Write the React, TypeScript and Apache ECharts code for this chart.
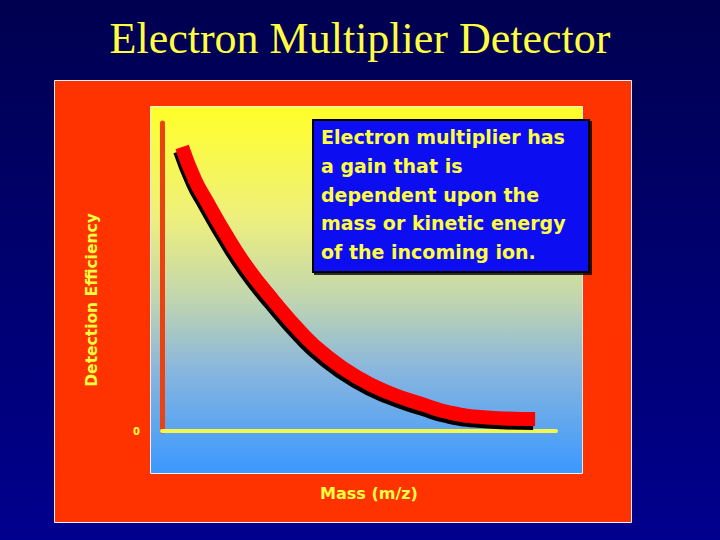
import { useEffect, useRef } from "react";
import * as echarts from "echarts";

// curve: mass (0-100) vs detection efficiency (0-100)
const massValues = [5.1, 8.4, 11.2, 16.0, 21.6, 28.2, 35.5, 40.9, 49.5, 57.9, 66.8, 73.1, 81.5, 94.7];
const efficiencyValues = [92.2, 81.5, 75.0, 64.3, 53.2, 42.5, 31.8, 25.3, 17.5, 12.3, 8.4, 6.0, 4.5, 3.9];
const yTickLabels = ["0"];

const titleText = "Electron Multiplier Detector";
const yAxisTitle = "Detection Efficiency";
const xAxisTitle = "Mass (m/z)";
const noteLines = [
  "Electron multiplier has",
  "a gain that is",
  "dependent upon the",
  "mass or kinetic energy",
  "of the incoming ion.",
];

const YELLOW = "#ffff40";

export default function App() {
  const ref = useRef<HTMLDivElement>(null);

  useEffect(() => {
    if (!ref.current) return;
    const chart = echarts.init(ref.current, undefined, { renderer: "svg" });
    const points = massValues.map((m, i) => [m, efficiencyValues[i]]);

    chart.setOption({
      animation: false,
      backgroundColor: new echarts.graphic.LinearGradient(0, 0, 0, 1, [
        { offset: 0, color: "#000050" },
        { offset: 1, color: "#00008e" },
      ]),
      grid: { left: 162, top: 123, width: 394, height: 308 },
      xAxis: {
        type: "value",
        min: 0,
        max: 100,
        z: 3,
        axisLine: { lineStyle: { color: "#f4f84a", width: 4 } },
        axisTick: { show: false },
        axisLabel: { show: false },
        splitLine: { show: false },
      },
      yAxis: {
        type: "value",
        min: 0,
        max: 100,
        interval: 100,
        z: 3,
        axisLine: { show: true, lineStyle: { color: "#ec4212", width: 5 } },
        axisTick: { show: false },
        splitLine: { show: false },
        axisLabel: {
          margin: 22,
          color: YELLOW,
          fontFamily: "DejaVu Sans",
          fontWeight: "bold",
          fontSize: 10,
          formatter: (v: number) => (v === 0 ? yTickLabels[0] : ""),
        },
      },
      series: [
        {
          type: "line",
          data: points,
          smooth: true,
          showSymbol: false,
          z: 4,
          lineStyle: {
            color: "#ff0000",
            width: 14,
            cap: "butt",
            shadowColor: "#000000",
            shadowBlur: 0,
            shadowOffsetX: -2,
            shadowOffsetY: 4,
          },
        },
      ],
      graphic: [
        {
          type: "rect",
          z: 0,
          shape: { x: 54.5, y: 80.5, width: 577, height: 442 },
          style: { fill: "#ff3300", stroke: "#f4f0f0", lineWidth: 1 },
        },
        {
          type: "rect",
          z: 0,
          shape: { x: 150.5, y: 106.5, width: 432, height: 367 },
          style: {
            fill: new echarts.graphic.LinearGradient(0, 0, 0, 1, [
              { offset: 0, color: "#ffff28" },
              { offset: 0.3, color: "#eef07c" },
              { offset: 0.52, color: "#c2d6ae" },
              { offset: 0.72, color: "#88b6de" },
              { offset: 1, color: "#3a98ff" },
            ]),
            stroke: "#f0f0f0",
            lineWidth: 1,
          },
        },
        {
          type: "text",
          z: 10,
          x: 360,
          y: 60,
          style: {
            text: titleText,
            fill: YELLOW,
            font: "44px 'Liberation Serif'",
            textAlign: "center",
            textVerticalAlign: "bottom",
            textShadowColor: "#000000",
            textShadowOffsetX: 2,
            textShadowOffsetY: 2,
          },
        },
        {
          type: "text",
          z: 10,
          x: 92,
          y: 300,
          rotation: Math.PI / 2,
          style: {
            text: yAxisTitle,
            fill: YELLOW,
            font: "bold 15.5px 'DejaVu Sans'",
            textAlign: "center",
            textVerticalAlign: "middle",
            textShadowColor: "#7a1000",
            textShadowOffsetX: 1,
            textShadowOffsetY: 1,
          },
        },
        {
          type: "text",
          z: 10,
          x: 369,
          y: 493,
          style: {
            text: xAxisTitle,
            fill: YELLOW,
            font: "bold 16px 'DejaVu Sans'",
            textAlign: "center",
            textVerticalAlign: "middle",
            textShadowColor: "#7a1000",
            textShadowOffsetX: 1,
            textShadowOffsetY: 1,
          },
        },
        {
          type: "rect",
          z: 10,
          shape: { x: 313, y: 120, width: 276, height: 152 },
          style: {
            fill: "#0a0af2",
            stroke: "#000000",
            lineWidth: 2,
            shadowColor: "rgba(0,0,0,0.8)",
            shadowOffsetX: 2,
            shadowOffsetY: 2,
          },
        },
        {
          type: "text",
          z: 11,
          x: 321,
          y: 123,
          style: {
            text: noteLines.join("\n"),
            fill: YELLOW,
            font: "bold 19px 'DejaVu Sans'",
            lineHeight: 28.6,
            textAlign: "left",
            textVerticalAlign: "top",
            textShadowColor: "#000000",
            textShadowOffsetX: 1.5,
            textShadowOffsetY: 1.5,
          },
        },
      ],
    });

    return () => chart.dispose();
  }, []);

  return (
    <div
      ref={ref}
      style={{ position: "fixed", left: 0, top: 0, width: 720, height: 540 }}
    />
  );
}
